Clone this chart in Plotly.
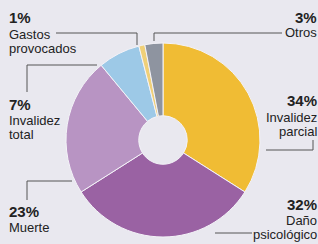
import plotly.graph_objects as go

categories = ["Invalidez parcial", "Daño psicológico", "Muerte", "Invalidez total", "Gastos provocados", "Otros"]
values = [34, 32, 23, 7, 1, 3]
pct_labels = ["34%", "32%", "23%", "7%", "1%", "3%"]
label_lines = [["Invalidez", "parcial"], ["Daño", "psicológico"], ["Muerte"],
               ["Invalidez", "total"], ["Gastos", "provocados"], ["Otros"]]
colors = ["#F0BC34", "#9A62A3", "#B894C3", "#9DC9E7", "#F0D078", "#8E94A0"]

W, H = 318, 244
BG = "#E9E8EF"
FONT = "Liberation Sans, Arial, sans-serif"

def px(x):
    return x / W

def py(y):
    return 1 - y / H

fig = go.Figure(go.Pie(
    labels=categories, values=values, sort=False, direction="clockwise",
    rotation=0, hole=0.25, textinfo="none", hoverinfo="skip",
    marker=dict(colors=colors, line=dict(color="#F4F3F8", width=1)),
    domain=dict(x=[px(66), px(260)], y=[py(237), py(43)]),
    showlegend=False,
))

# label layout: x, anchor, center y of percentage, center y of each text line
label_pos = {
    "Gastos provocados": (8, "left", 18, [34, 48]),
    "Otros": (318, "right", 17, [33]),
    "Invalidez parcial": (318, "right", 100, [117, 131]),
    "Daño psicológico": (318, "right", 204, [220, 234]),
    "Invalidez total": (8, "left", 104, [120, 134]),
    "Muerte": (8, "left", 211, [227]),
}

annotations = []
for cat, pct, lines in zip(categories, pct_labels, label_lines):
    x, anchor, ypct, ylines = label_pos[cat]
    annotations.append(dict(x=px(x), y=py(ypct), xref="paper", yref="paper",
                            text="<b>" + pct + "</b>", showarrow=False,
                            xanchor=anchor, yanchor="middle", borderpad=0,
                            font=dict(size=15, color="#222222", family=FONT)))
    for line, yl in zip(lines, ylines):
        annotations.append(dict(x=px(x), y=py(yl), xref="paper", yref="paper",
                                text=line, showarrow=False, xanchor=anchor,
                                yanchor="middle", borderpad=0,
                                font=dict(size=13, color="#222222", family=FONT)))

leaders = [
    [(56, 33), (137, 33), (137, 45)],
    [(154, 41), (154, 33), (282, 33)],
    [(266, 150), (313, 150), (313, 140)],
    [(215, 233), (252, 233)],
    [(27, 92), (27, 65), (97, 65)],
    [(27, 200), (27, 181), (72, 181)],
]
shapes = []
for pts in leaders:
    path = "M " + " L ".join(f"{px(a)},{py(b)}" for a, b in pts)
    shapes.append(dict(type="path", xref="paper", yref="paper", path=path,
                       line=dict(color="#555555", width=1)))

fig.update_layout(
    width=W, height=H, margin=dict(l=0, r=0, t=0, b=0),
    paper_bgcolor=BG, plot_bgcolor=BG,
    annotations=annotations, shapes=shapes,
)

fig.write_html("out.html", config={"displayModeBar": False},
               post_script="document.body.style.margin='0';document.body.style.background='" + BG + "';")
